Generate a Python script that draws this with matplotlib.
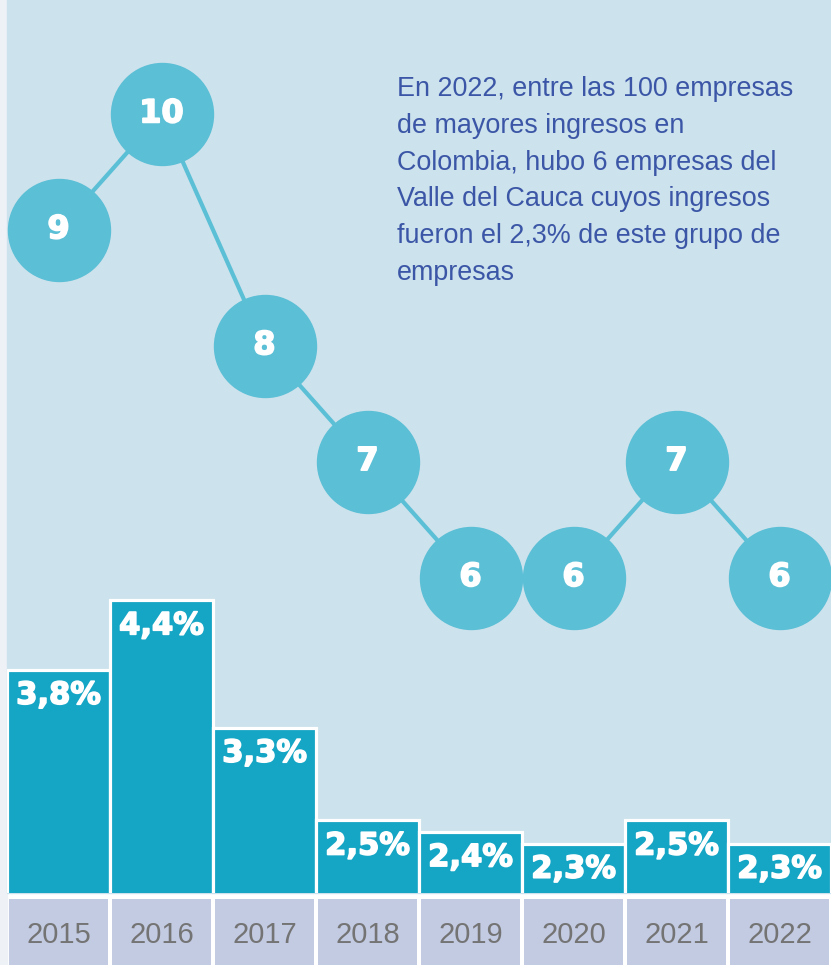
import numpy as np
import matplotlib.pyplot as plt
import matplotlib.patheffects as pe
from matplotlib.patches import Rectangle

years = ["2015", "2016", "2017", "2018", "2019", "2020", "2021", "2022"]
share_pct = [3.8, 4.4, 3.3, 2.5, 2.4, 2.3, 2.5, 2.3]
n_companies = [9, 10, 8, 7, 6, 6, 7, 6]
share_labels = ["3,8%", "4,4%", "3,3%", "2,5%", "2,4%", "2,3%", "2,5%", "2,3%"]
note = ("En 2022, entre las 100 empresas\nde mayores ingresos en\n"
        "Colombia, hubo 6 empresas del\nValle del Cauca cuyos ingresos\n"
        "fueron el 2,3% de este grupo de\nempresas")

bg = "#cce2ec"
bar_color = "#15a5c5"
circle_color = "#5bbfd6"
cell_color = "#c3cbe2"
year_color = "#747474"
note_color = "#3b56a6"

W, H = 831, 965
fig = plt.figure(figsize=(W / 100, H / 100), dpi=100, facecolor="white")
fig.patches.append(Rectangle((0, 0), 7 / W, 1, transform=fig.transFigure,
                             color="#eef2f7", zorder=-10))
fig.patches.append(Rectangle((7 / W, 1 - 893 / H), 824 / W, 893 / H,
                             transform=fig.transFigure, color=bg, zorder=-10))

x = np.arange(len(years))
left = 7 / W
width = 824 / W
heavy = [pe.withStroke(linewidth=1.2, foreground="white")]

# bars + circles share the same area
ax = fig.add_axes([left, 1 - 893 / H, width, 893 / H])
ax.bar(x, share_pct, width=1.0, color=bar_color, edgecolor="white", linewidth=2.3)
ax.set_xlim(-0.5, 7.5)
ax.set_ylim(1.873, 9.578)
for xi, v, lab in zip(x, share_pct, share_labels):
    ax.annotate(lab, (xi, v), xytext=(0, -18.5), textcoords="offset points",
                ha="center", va="center", color="white", fontsize=22,
                fontweight="bold", path_effects=heavy)
ax.axis("off")

ax2 = ax.twinx()
ax2.plot(x, n_companies, color=circle_color, lw=3, zorder=1)
ax2.scatter(x, n_companies, s=5390, color=circle_color, zorder=2, clip_on=False)
for xi, n in zip(x, n_companies):
    ax2.text(xi, n, str(n), ha="center", va="center", color="white",
             fontsize=23, fontweight="bold", zorder=3, path_effects=heavy)
ax2.set_ylim(3.278, 10.983)
ax2.set_xlim(-0.5, 7.5)
ax2.axis("off")

fig.text(397 / W, 1 - 76 / H, note, ha="left", va="top", color=note_color,
         fontsize=19.4, family="Liberation Sans", linespacing=1.54)

# year band
ax3 = fig.add_axes([left, 0, width, 66 / H])
ax3.bar(x, [1] * len(years), width=0.955, color=cell_color)
for xi, yr in zip(x, years):
    ax3.text(xi, 0.45, yr, ha="center", va="center", color=year_color,
             fontsize=21, family="Liberation Sans")
ax3.set_xlim(-0.5, 7.5)
ax3.set_ylim(0, 1)
ax3.axis("off")

fig.savefig("out.png", dpi=100, facecolor=fig.get_facecolor())
